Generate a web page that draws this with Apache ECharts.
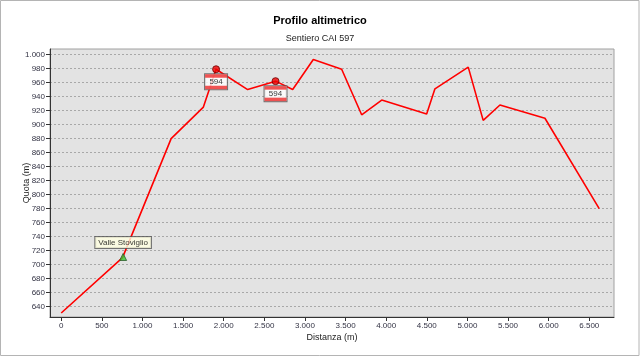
<!DOCTYPE html>
<html>
<head>
<meta charset="utf-8">
<script src="https://cdn.jsdelivr.net/npm/echarts@6/dist/echarts.min.js"></script>
<style>html,body{margin:0;padding:0;background:#fff}#c{width:640px;height:357px}</style>
</head>
<body>
<div id="c"></div>
<script>
const distances = [0, 755, 1353, 1750, 1906, 2295, 2638, 2849, 3103, 3452, 3698, 3945, 4498, 4600, 5010, 5194, 5400, 5954, 6622];
const elevations = [631, 710, 880, 925, 979, 950, 962, 950, 993, 979, 914, 935, 915, 951, 982, 906, 928, 909, 780];
const waypointNames = ['Valle Stoviglio'];
const waypointX = [762];
const waypointY = [711];
const signX = [1906, 2638];
const signY = [979, 962];
const signLabels = ['594', '594'];
const yTicks = [640, 660, 680, 700, 720, 740, 760, 780, 800, 820, 840, 860, 880, 900, 920, 940, 960, 980, 1000];
const xTicks = [0, 500, 1000, 1500, 2000, 2500, 3000, 3500, 4000, 4500, 5000, 5500, 6000, 6500];

const fmt = v => String(Math.round(v)).replace(/\B(?=(\d{3})+(?!\d))/g, '.');
const FONT = 'Liberation Sans, Arial, sans-serif';

const chart = echarts.init(document.getElementById('c'), null, {renderer: 'canvas'});
chart.setOption({
  animation: false,
  backgroundColor: '#fff',
  title: [
    {text: 'Profilo altimetrico', left: 'center', top: 15, padding: 0,
     textStyle: {fontFamily: FONT, fontSize: 11, fontWeight: 'bold', color: '#000'}},
    {text: 'Sentiero CAI 597', left: 'center', top: 34, padding: 0,
     textStyle: {fontFamily: FONT, fontSize: 9, fontWeight: 'normal', color: '#222'}}
  ],
  graphic: [{type: 'rect', shape: {x: 0.5, y: 0.5, width: 638.5, height: 355}, style: {fill: null, stroke: '#b4b4b4', lineWidth: 1}, silent: true}],
  grid: {left: 50, right: 26, top: 49, bottom: 40, show: true, backgroundColor: '#e3e3e3', borderColor: '#a0a0a0', borderWidth: 1},
  xAxis: {
    type: 'value', min: -138, max: 6804,
    name: 'Distanza (m)', nameLocation: 'middle', nameGap: 16, nameMoveOverlap: false,
    nameTextStyle: {fontFamily: FONT, fontSize: 9, color: '#222'},
    axisLine: {show: true, onZero: false, lineStyle: {color: '#333', width: 1}},
    axisTick: {show: true, length: 4, customValues: xTicks, lineStyle: {color: '#333'}},
    axisLabel: {customValues: xTicks, formatter: fmt, margin: 5, fontFamily: FONT, fontSize: 8, color: '#333344'},
    splitLine: {show: false}
  },
  yAxis: {
    type: 'value', min: 625.3, max: 1007.9,
    name: 'Quota (m)', nameLocation: 'middle', nameGap: 19, nameRotate: 90, nameMoveOverlap: false,
    nameTextStyle: {fontFamily: FONT, fontSize: 9, color: '#222'},
    axisLine: {show: true, onZero: false, lineStyle: {color: '#333', width: 1}},
    axisTick: {show: true, length: 4, customValues: yTicks, lineStyle: {color: '#333'}},
    axisLabel: {customValues: yTicks, formatter: fmt, margin: 5, fontFamily: FONT, fontSize: 8, color: '#333344'},
    splitLine: {show: true, lineStyle: {color: '#a8a8a8', type: [2, 2], width: 1}}
  },
  series: [
    {type: 'line', data: distances.map((d, i) => [d, elevations[i]]), showSymbol: false, symbol: 'none',
     lineStyle: {color: '#ff0000', width: 1.6}, z: 2},
    {type: 'scatter', data: waypointX.map((d, i) => ({value: [d, waypointY[i]], name: waypointNames[i]})),
     symbol: 'triangle', symbolSize: 7, itemStyle: {color: '#33cc33', borderColor: '#2a5a2a', borderWidth: 1}, z: 5,
     label: {show: true, position: 'top', distance: 5, formatter: p => p.name, fontFamily: FONT, fontSize: 8, color: '#000',
       backgroundColor: '#ffffe1', borderColor: '#555', borderWidth: 1, padding: [1, 3, 0, 3], lineHeight: 10}},
    {type: 'scatter', data: signX.map((d, i) => ({value: [d, signY[i]], name: signLabels[i]})),
     symbol: 'circle', symbolSize: 7, itemStyle: {color: '#ee0000', borderColor: '#700000', borderWidth: 1}, z: 5,
     label: {show: true, position: 'bottom', distance: 1, formatter: p => '{a| }\n{b|' + p.name + '}\n{a| }',
       backgroundColor: '#fff', borderColor: '#555', borderWidth: 1, padding: 0,
       rich: {
         a: {backgroundColor: '#ee2a2a', width: 22, height: 3.5, lineHeight: 3.5, fontSize: 1},
         b: {width: 22, height: 8, lineHeight: 8, align: 'center', fontFamily: FONT, fontSize: 8, color: '#000'}
       }}}
  ]
});
</script>
</body>
</html>
